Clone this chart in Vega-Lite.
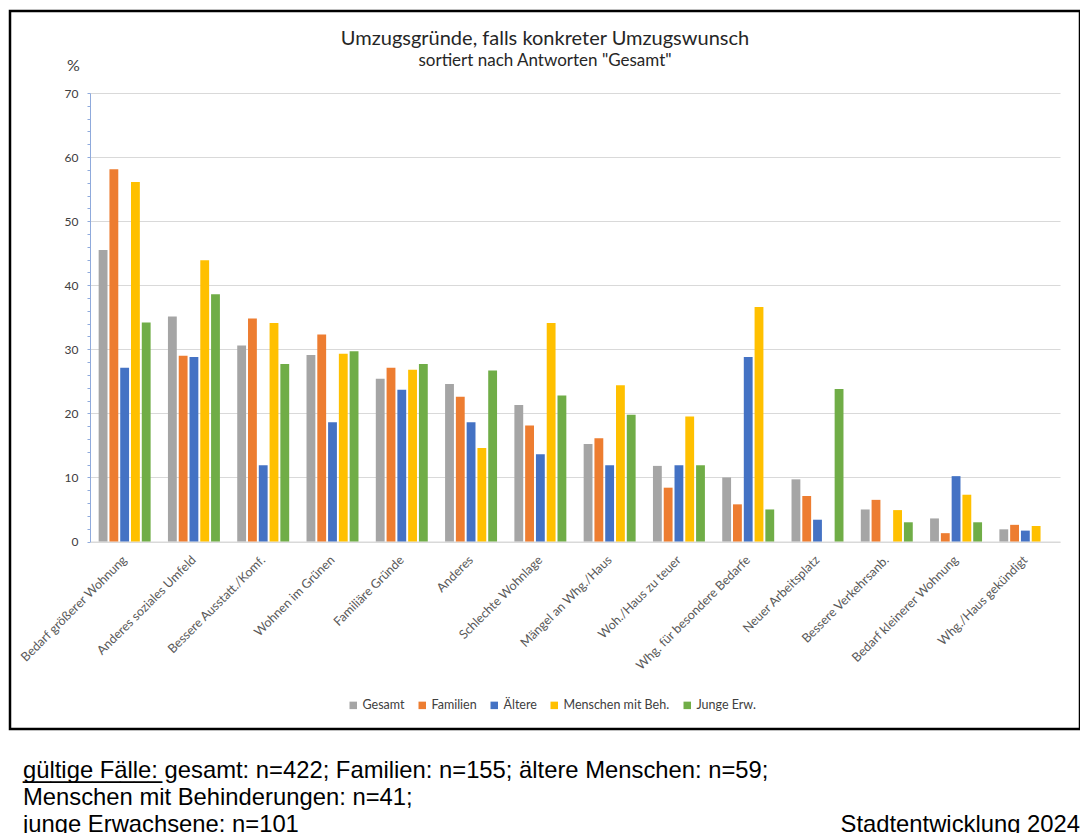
{
  "$schema": "https://vega.github.io/schema/vega-lite/v6.json",
  "padding": {"left": 8, "top": 9, "right": 0, "bottom": 0},
  "background": "white",
  "spacing": 0,
  "config": {"font": "Lato", "view": {"stroke": null}},
  "vconcat": [
    {
      "width": 1070,
      "height": 718,
      "view": {"stroke": "black", "strokeWidth": 2.5},
      "title": {
        "text": "Umzugsgründe, falls konkreter Umzugswunsch",
        "subtitle": "sortiert nach Antworten \"Gesamt\"",
        "font": "Lato",
        "fontSize": 20,
        "fontWeight": "normal",
        "color": "#262626",
        "subtitleFont": "Lato",
        "subtitleFontSize": 17,
        "subtitleColor": "#262626",
        "subtitlePadding": 4,
        "anchor": "middle",
        "offset": -58
      },
      "data": {
        "values": [
          {"Grund": "Bedarf größerer Wohnung", "Gruppe": "Gesamt", "Prozent": 45.5},
          {"Grund": "Bedarf größerer Wohnung", "Gruppe": "Familien", "Prozent": 58.1},
          {"Grund": "Bedarf größerer Wohnung", "Gruppe": "Ältere", "Prozent": 27.1},
          {"Grund": "Bedarf größerer Wohnung", "Gruppe": "Menschen mit Beh.", "Prozent": 56.1},
          {"Grund": "Bedarf größerer Wohnung", "Gruppe": "Junge Erw.", "Prozent": 34.2},
          {"Grund": "Anderes soziales Umfeld", "Gruppe": "Gesamt", "Prozent": 35.1},
          {"Grund": "Anderes soziales Umfeld", "Gruppe": "Familien", "Prozent": 29.0},
          {"Grund": "Anderes soziales Umfeld", "Gruppe": "Ältere", "Prozent": 28.8},
          {"Grund": "Anderes soziales Umfeld", "Gruppe": "Menschen mit Beh.", "Prozent": 43.9},
          {"Grund": "Anderes soziales Umfeld", "Gruppe": "Junge Erw.", "Prozent": 38.6},
          {"Grund": "Bessere Ausstatt./Komf.", "Gruppe": "Gesamt", "Prozent": 30.6},
          {"Grund": "Bessere Ausstatt./Komf.", "Gruppe": "Familien", "Prozent": 34.8},
          {"Grund": "Bessere Ausstatt./Komf.", "Gruppe": "Ältere", "Prozent": 11.9},
          {"Grund": "Bessere Ausstatt./Komf.", "Gruppe": "Menschen mit Beh.", "Prozent": 34.1},
          {"Grund": "Bessere Ausstatt./Komf.", "Gruppe": "Junge Erw.", "Prozent": 27.7},
          {"Grund": "Wohnen im Grünen", "Gruppe": "Gesamt", "Prozent": 29.1},
          {"Grund": "Wohnen im Grünen", "Gruppe": "Familien", "Prozent": 32.3},
          {"Grund": "Wohnen im Grünen", "Gruppe": "Ältere", "Prozent": 18.6},
          {"Grund": "Wohnen im Grünen", "Gruppe": "Menschen mit Beh.", "Prozent": 29.3},
          {"Grund": "Wohnen im Grünen", "Gruppe": "Junge Erw.", "Prozent": 29.7},
          {"Grund": "Familiäre Gründe", "Gruppe": "Gesamt", "Prozent": 25.4},
          {"Grund": "Familiäre Gründe", "Gruppe": "Familien", "Prozent": 27.1},
          {"Grund": "Familiäre Gründe", "Gruppe": "Ältere", "Prozent": 23.7},
          {"Grund": "Familiäre Gründe", "Gruppe": "Menschen mit Beh.", "Prozent": 26.8},
          {"Grund": "Familiäre Gründe", "Gruppe": "Junge Erw.", "Prozent": 27.7},
          {"Grund": "Anderes", "Gruppe": "Gesamt", "Prozent": 24.6},
          {"Grund": "Anderes", "Gruppe": "Familien", "Prozent": 22.6},
          {"Grund": "Anderes", "Gruppe": "Ältere", "Prozent": 18.6},
          {"Grund": "Anderes", "Gruppe": "Menschen mit Beh.", "Prozent": 14.6},
          {"Grund": "Anderes", "Gruppe": "Junge Erw.", "Prozent": 26.7},
          {"Grund": "Schlechte Wohnlage", "Gruppe": "Gesamt", "Prozent": 21.3},
          {"Grund": "Schlechte Wohnlage", "Gruppe": "Familien", "Prozent": 18.1},
          {"Grund": "Schlechte Wohnlage", "Gruppe": "Ältere", "Prozent": 13.6},
          {"Grund": "Schlechte Wohnlage", "Gruppe": "Menschen mit Beh.", "Prozent": 34.1},
          {"Grund": "Schlechte Wohnlage", "Gruppe": "Junge Erw.", "Prozent": 22.8},
          {"Grund": "Mängel an Whg./Haus", "Gruppe": "Gesamt", "Prozent": 15.2},
          {"Grund": "Mängel an Whg./Haus", "Gruppe": "Familien", "Prozent": 16.1},
          {"Grund": "Mängel an Whg./Haus", "Gruppe": "Ältere", "Prozent": 11.9},
          {"Grund": "Mängel an Whg./Haus", "Gruppe": "Menschen mit Beh.", "Prozent": 24.4},
          {"Grund": "Mängel an Whg./Haus", "Gruppe": "Junge Erw.", "Prozent": 19.8},
          {"Grund": "Woh./Haus zu teuer", "Gruppe": "Gesamt", "Prozent": 11.8},
          {"Grund": "Woh./Haus zu teuer", "Gruppe": "Familien", "Prozent": 8.4},
          {"Grund": "Woh./Haus zu teuer", "Gruppe": "Ältere", "Prozent": 11.9},
          {"Grund": "Woh./Haus zu teuer", "Gruppe": "Menschen mit Beh.", "Prozent": 19.5},
          {"Grund": "Woh./Haus zu teuer", "Gruppe": "Junge Erw.", "Prozent": 11.9},
          {"Grund": "Whg. für besondere Bedarfe", "Gruppe": "Gesamt", "Prozent": 10.0},
          {"Grund": "Whg. für besondere Bedarfe", "Gruppe": "Familien", "Prozent": 5.8},
          {"Grund": "Whg. für besondere Bedarfe", "Gruppe": "Ältere", "Prozent": 28.8},
          {"Grund": "Whg. für besondere Bedarfe", "Gruppe": "Menschen mit Beh.", "Prozent": 36.6},
          {"Grund": "Whg. für besondere Bedarfe", "Gruppe": "Junge Erw.", "Prozent": 5.0},
          {"Grund": "Neuer Arbeitsplatz", "Gruppe": "Gesamt", "Prozent": 9.7},
          {"Grund": "Neuer Arbeitsplatz", "Gruppe": "Familien", "Prozent": 7.1},
          {"Grund": "Neuer Arbeitsplatz", "Gruppe": "Ältere", "Prozent": 3.4},
          {"Grund": "Neuer Arbeitsplatz", "Gruppe": "Menschen mit Beh.", "Prozent": 0},
          {"Grund": "Neuer Arbeitsplatz", "Gruppe": "Junge Erw.", "Prozent": 23.8},
          {"Grund": "Bessere Verkehrsanb.", "Gruppe": "Gesamt", "Prozent": 5.0},
          {"Grund": "Bessere Verkehrsanb.", "Gruppe": "Familien", "Prozent": 6.5},
          {"Grund": "Bessere Verkehrsanb.", "Gruppe": "Ältere", "Prozent": 0},
          {"Grund": "Bessere Verkehrsanb.", "Gruppe": "Menschen mit Beh.", "Prozent": 4.9},
          {"Grund": "Bessere Verkehrsanb.", "Gruppe": "Junge Erw.", "Prozent": 3.0},
          {"Grund": "Bedarf kleinerer Wohnung", "Gruppe": "Gesamt", "Prozent": 3.6},
          {"Grund": "Bedarf kleinerer Wohnung", "Gruppe": "Familien", "Prozent": 1.3},
          {"Grund": "Bedarf kleinerer Wohnung", "Gruppe": "Ältere", "Prozent": 10.2},
          {"Grund": "Bedarf kleinerer Wohnung", "Gruppe": "Menschen mit Beh.", "Prozent": 7.3},
          {"Grund": "Bedarf kleinerer Wohnung", "Gruppe": "Junge Erw.", "Prozent": 3.0},
          {"Grund": "Whg./Haus gekündigt", "Gruppe": "Gesamt", "Prozent": 1.9},
          {"Grund": "Whg./Haus gekündigt", "Gruppe": "Familien", "Prozent": 2.6},
          {"Grund": "Whg./Haus gekündigt", "Gruppe": "Ältere", "Prozent": 1.7},
          {"Grund": "Whg./Haus gekündigt", "Gruppe": "Menschen mit Beh.", "Prozent": 2.4},
          {"Grund": "Whg./Haus gekündigt", "Gruppe": "Junge Erw.", "Prozent": 0}
        ]
      },
      "mark": {"type": "bar"},
      "encoding": {
        "x": {
          "field": "Grund",
          "type": "nominal",
          "sort": null,
          "scale": {"range": [80, 1050], "paddingInner": 0.25, "paddingOuter": 0.125},
          "axis": {
            "title": null,
            "orient": "bottom",
            "offset": -187.5,
            "labelAngle": -45,
            "labelAlign": "right",
            "labelBaseline": "middle",
            "labelPadding": 16,
            "ticks": false,
            "domainColor": "#D9D9D9",
            "domainWidth": 1,
            "labelFont": "Lato",
            "labelFontSize": 12.5,
            "labelColor": "#595959",
            "labelLimit": 300
          }
        },
        "xOffset": {
          "field": "Gruppe",
          "type": "nominal",
          "sort": ["Gesamt", "Familien", "Ältere", "Menschen mit Beh.", "Junge Erw."],
          "scale": {"paddingInner": 0.18}
        },
        "y": {
          "field": "Prozent",
          "type": "quantitative",
          "scale": {"domain": [0, 70], "range": [530.5, 82], "nice": false, "zero": true},
          "axis": {
            "title": "%",
            "titleAngle": 0,
            "titleAlign": "center",
            "titleBaseline": "alphabetic",
            "titleX": -17,
            "titleY": 59,
            "titleFont": "Lato",
            "titleFontSize": 16,
            "titleFontWeight": "normal",
            "titleColor": "#404040",
            "offset": -80,
            "values": [0, 2, 4, 6, 8, 10, 12, 14, 16, 18, 20, 22, 24, 26, 28, 30, 32, 34, 36, 38, 40, 42, 44, 46, 48, 50, 52, 54, 56, 58, 60, 62, 64, 66, 68, 70],
            "labelExpr": "datum.value % 10 === 0 ? datum.label : ''",
            "tickSize": 3,
            "tickColor": "#8FAADC",
            "domainColor": "#8FAADC",
            "grid": true,
            "gridColor": "#D9D9D9",
            "gridOpacity": {"condition": {"test": "datum.value % 10 === 0", "value": 1}, "value": 0},
            "labelPadding": 9,
            "labelFont": "Lato",
            "labelFontSize": 12,
            "labelColor": "#404040"
          }
        },
        "color": {
          "field": "Gruppe",
          "type": "nominal",
          "scale": {
            "domain": ["Gesamt", "Familien", "Ältere", "Menschen mit Beh.", "Junge Erw."],
            "range": ["#A5A5A5", "#ED7D31", "#4472C4", "#FFC000", "#70AD47"]
          },
          "legend": {
            "title": null,
            "orient": "none",
            "direction": "horizontal",
            "legendX": 337,
            "legendY": 688,
            "symbolType": "square",
            "symbolSize": 56,
            "symbolStrokeWidth": 0,
            "labelFont": "Lato",
            "labelFontSize": 12.5,
            "labelColor": "#404040",
            "labelOffset": 3,
            "columnPadding": 11
          }
        }
      }
    },
    {
      "width": 1070,
      "height": 103,
      "view": {"stroke": null},
      "data": {
        "values": [
          {"teil": "fussnote", "spalte": "links", "zeile": 1, "text": "gültige Fälle: gesamt: n=422; Familien: n=155; ältere Menschen: n=59;"},
          {"teil": "fussnote", "spalte": "links", "zeile": 2, "text": "Menschen mit Behinderungen: n=41;"},
          {"teil": "fussnote", "spalte": "links", "zeile": 3, "text": "junge Erwachsene: n=101"},
          {"teil": "unterstrich", "spalte": "links", "zeile": 1, "text": "__________"},
          {"teil": "quelle", "spalte": "rechts", "zeile": 3, "text": "Stadtentwicklung 2024"}
        ]
      },
      "encoding": {
        "x": {"field": "spalte", "type": "nominal", "scale": {"type": "point", "domain": ["links", "rechts"], "padding": 0}, "axis": null},
        "y": {"field": "zeile", "type": "quantitative", "scale": {"domain": [-0.709, 3.073], "reverse": true, "nice": false, "zero": false}, "axis": null},
        "text": {"field": "text"}
      },
      "layer": [
        {
          "transform": [{"filter": "datum.teil === 'fussnote'"}],
          "mark": {"type": "text", "align": "left", "baseline": "alphabetic", "dx": 13, "font": "Liberation Sans", "fontSize": 23.8, "color": "black"}
        },
        {
          "transform": [{"filter": "datum.teil === 'unterstrich'"}],
          "mark": {"type": "text", "align": "left", "baseline": "alphabetic", "dx": 13, "font": "Liberation Sans", "fontSize": 25, "color": "black"}
        },
        {
          "transform": [{"filter": "datum.teil === 'quelle'"}],
          "mark": {"type": "text", "align": "right", "baseline": "alphabetic", "dx": 0, "font": "Liberation Sans", "fontSize": 23.8, "color": "black"}
        }
      ]
    }
  ]
}
